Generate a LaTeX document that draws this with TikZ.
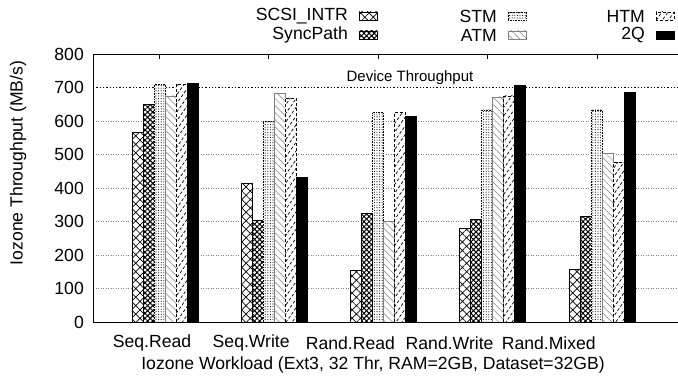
\documentclass[tikz,border=0pt]{standalone}
\usepackage{fontspec}
\setmainfont{Liberation Sans}
\usetikzlibrary{patterns.meta}

\begin{document}
\begin{tikzpicture}[x=1pt, y=1pt,
    every node/.style = {font=\fontsize{17.6}{20}\selectfont, inner sep=0pt},
    grid line/.style = {dotted, gray, line width=0.5pt},
    limit line/.style = {dotted, black, line width=1.3pt},
    bar/.style = {preaction={fill=white}, line width=0.6pt},
    scsi/.style = {bar, pattern={Hatch[angle=45,distance=6pt,line width=0.7pt]}},
    syncpath/.style = {bar, pattern={Hatch[angle=45,distance=3.6pt,line width=1pt]}},
    stm/.style = {bar, pattern={Dots[distance=2.6pt,radius=0.55pt]}, densely dotted},
    atm/.style = {bar, pattern={Lines[angle=-45,distance=5pt,line width=0.5pt]}, pattern color=gray, draw=gray},
    htm/.style = {bar, pattern={Lines[angle=55,distance=5pt,line width=0.7pt]}, densely dashed},
    twoq/.style = {bar, fill=black}
  ]
\useasboundingbox (0,0) rectangle (678,382);

% grid and device limit
\foreach \v in {100,200,...,600}
  \draw[grid line] (93,{60+0.335*\v}) -- (678,{60+0.335*\v});
\draw[limit line] (93,{60+0.335*700}) -- (678,{60+0.335*700});
\node[font=\fontsize{15}{18}\selectfont] (limit) at (410,304) {Device Throughput};

% bars, one series at a time
\foreach \sty/\j/\vals in {scsi/0/{565,414,155,280,158},
                           syncpath/1/{650,303,324,307,316},
                           stm/2/{710,598,625,633,633},
                           atm/3/{675,683,300,672,504},
                           htm/4/{710,668,625,675,476},
                           twoq/5/{712,433,613,707,687}}
  \foreach \v [count=\g from 0] in \vals
    \draw[style=\sty] ({132+109.25*\g+11*\j},60) rectangle +(11,{0.335*\v});

% axes
\draw[line width=0.6pt] (678,328) -- (93,328) -- (93,60) -- (678,60);
\foreach \g in {0,...,4}
  \draw[line width=0.6pt] ({159+109.5*\g},328) -- ++(0,-5);
\foreach \v [count=\k from 0] in {0,100,...,800}
  \node[anchor=east] (ytick\k) at (84,{60+0.335*\v}) {\v};
\foreach \txt [count=\g from 0] in {Seq.Read,Seq.Write,Rand.Read,Rand.Write,Rand.Mixed}
  \node (cat\g) at ({152+99.2*\g},39) {\txt};
\node (xlabel) at (373,17) {Iozone Workload (Ext3, 32 Thr, RAM=2GB, Dataset=32GB)};
\node[rotate=90] (ylabel) at (18,219) {Iozone Throughput (MB/s)};

% legend
\foreach \sty/\txt/\lx/\ly in {scsi/SCSI\_INTR/348/366, syncpath/SyncPath/348/347,
                               stm/STM/497/366, atm/ATM/497/347,
                               htm/HTM/645/366, twoq/2Q/645/347}
{
  \node[anchor=east] (key-\sty) at (\lx,\ly) {\txt};
  \draw[style=\sty] ([xshift=11pt,yshift=-4pt]key-\sty.east) rectangle ++(18,8);
}
\end{tikzpicture}
\end{document}
